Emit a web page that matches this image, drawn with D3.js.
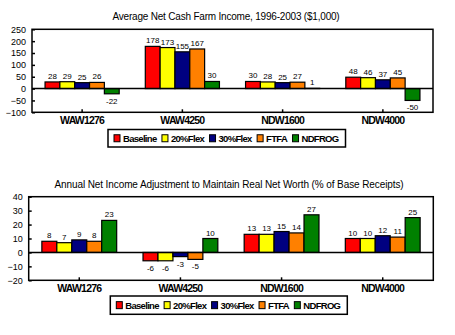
<!DOCTYPE html>
<html>
<head>
<meta charset="utf-8">
<script src="https://cdn.jsdelivr.net/npm/d3@7"></script>
<style>
  body { margin: 0; background: #fff; }
  svg { display: block; font-family: "Liberation Sans", Arial, sans-serif; }
</style>
</head>
<body>
<svg id="chart" width="455" height="335"></svg>
<script>
// Farms and scenarios
const categories = ["WAW1276", "WAW4250", "NDW1600", "NDW4000"];
const scenarios = ["Baseline", "20%Flex", "30%Flex", "FTFA", "NDFROG"];
const colors = ["#ff0000", "#ffff00", "#000080", "#ff8000", "#008000"];

// Average net cash farm income, 1996-2003 ($1,000), one array per scenario
const incomeBaseline = [28, 178, 30, 48];
const income20Flex   = [29, 173, 28, 46];
const income30Flex   = [25, 155, 25, 37];
const incomeFTFA     = [26, 167, 27, 45];
const incomeNDFROG   = [-22, 30, 1, -50];
const incomeTicks    = [250, 200, 150, 100, 50, 0, -50, -100];

// Annual net income adjustment (% of base receipts)
const adjBaseline = [8, -6, 13, 10];
const adj20Flex   = [7, -6, 13, 10];
const adj30Flex   = [9, -3, 15, 12];
const adjFTFA     = [8, -5, 14, 11];
const adjNDFROG   = [23, 10, 27, 25];
const adjTicks    = [40, 30, 20, 10, 0, -10, -20];

const svg = d3.select("#chart");

function drawPanel(cfg) {
  const g = svg.append("g");
  const x = d3.scaleBand().domain(categories).range([cfg.left, cfg.right]).paddingInner(0).paddingOuter(0);
  const x1 = d3.scaleBand().domain(scenarios).range([0, x.bandwidth()]).paddingInner(0).paddingOuter(0.88);
  const y = d3.scaleLinear().domain(cfg.domain).range([cfg.bottom, cfg.top]);

  // title
  g.append("text").attr("x", cfg.titleX).attr("y", cfg.titleY)
    .attr("text-anchor", "middle").attr("font-size", cfg.titleSize).attr("fill", "#000")
    .attr("letter-spacing", cfg.titleSpacing)
    .text(cfg.title);

  // frame
  g.append("rect").attr("x", cfg.left).attr("y", cfg.top)
    .attr("width", cfg.right - cfg.left).attr("height", cfg.bottom - cfg.top)
    .attr("fill", "none").attr("stroke", "#000").attr("stroke-width", 1.5);

  // y axis
  const yAxis = d3.axisLeft(y).tickValues(cfg.ticks).tickSize(-3).tickPadding(6);
  const ya = g.append("g").attr("transform", `translate(${cfg.left},0)`).call(yAxis);
  ya.select(".domain").remove();
  ya.selectAll("line").attr("stroke", "#000").attr("stroke-width", 1.5);
  ya.selectAll("text").attr("font-size", 9).attr("font-family", "'Liberation Sans', Arial, sans-serif").attr("fill", "#000");

  // x axis ticks at category centres + labels
  const xa = g.append("g");
  xa.selectAll("line").data(categories).join("line")
    .attr("x1", d => x(d) + x.bandwidth() / 2).attr("x2", d => x(d) + x.bandwidth() / 2)
    .attr("y1", cfg.bottom).attr("y2", cfg.bottom - 3)
    .attr("stroke", "#000").attr("stroke-width", 1.5);
  xa.selectAll("text").data(categories).join("text")
    .attr("x", d => x(d) + x.bandwidth() / 2).attr("y", cfg.bottom + 12)
    .attr("text-anchor", "middle").attr("font-size", 10.5).attr("font-weight", "bold")
    .attr("letter-spacing", -0.8)
    .text(d => d);

  // bars
  const rows = [];
  categories.forEach((c, i) => {
    scenarios.forEach((s, j) => rows.push({ c, s, j, v: cfg.series[j][i] }));
  });
  g.append("g").selectAll("rect").data(rows).join("rect")
    .attr("x", d => x(d.c) + x1(d.s))
    .attr("y", d => y(Math.max(0, d.v)))
    .attr("width", x1.bandwidth())
    .attr("height", d => Math.abs(y(d.v) - y(0)))
    .attr("fill", d => colors[d.j])
    .attr("stroke", "#000").attr("stroke-width", 1.2);

  // zero line
  g.append("line").attr("x1", cfg.left).attr("x2", cfg.right)
    .attr("y1", y(0)).attr("y2", y(0)).attr("stroke", "#000").attr("stroke-width", 1.5);

  // value labels
  g.append("g").selectAll("text").data(rows).join("text")
    .attr("x", d => x(d.c) + x1(d.s) + x1.bandwidth() / 2)
    .attr("y", d => d.v >= 0 ? y(d.v) - 3 : y(d.v) + 10)
    .attr("text-anchor", "middle").attr("font-size", 8).attr("fill", "#000")
    .text(d => d.v);

  // legend
  const lg = g.append("g");
  const midY = cfg.legY + cfg.legH / 2;
  const items = scenarios.map((s, j) => {
    const sq = lg.append("rect").attr("y", midY - 3.5).attr("width", 6).attr("height", 7)
      .attr("fill", colors[j]).attr("stroke", "#000").attr("stroke-width", 1);
    const t = lg.append("text").attr("y", midY + 3.5)
      .attr("font-size", 9.5).attr("font-weight", "bold").attr("letter-spacing", -0.7)
      .text(s);
    return { sq, t, w: t.node().getComputedTextLength() };
  });
  const textTotal = d3.sum(items, d => d.w);
  const inner = cfg.legW - 12;
  const gap = (inner - textTotal - items.length * 10) / (items.length - 1);
  let cx = cfg.legX + 6;
  items.forEach(it => {
    it.sq.attr("x", cx);
    it.t.attr("x", cx + 9);
    cx += 10 + it.w + gap;
  });
  lg.insert("rect", ":first-child").attr("x", cfg.legX).attr("y", cfg.legY)
    .attr("width", cfg.legW).attr("height", cfg.legH)
    .attr("fill", "#fff").attr("stroke", "#000").attr("stroke-width", 1.5);
}

drawPanel({
  title: "Average Net Cash Farm Income, 1996-2003 ($1,000)",
  titleX: 226, titleY: 20, titleSize: 10, titleSpacing: -0.2,
  left: 32, right: 433, top: 29.3, bottom: 112.3,
  domain: [-100, 250], ticks: incomeTicks,
  series: [incomeBaseline, income20Flex, income30Flex, incomeFTFA, incomeNDFROG],
  legX: 108, legY: 129.5, legW: 237.5, legH: 17.5
});

drawPanel({
  title: "Annual Net Income Adjustment to Maintain Real Net Worth (% of Base Receipts)",
  titleX: 229, titleY: 188, titleSize: 10, titleSpacing: -0.1,
  left: 28.7, right: 433.3, top: 196.7, bottom: 280.3,
  domain: [-20, 40], ticks: adjTicks,
  series: [adjBaseline, adj20Flex, adj30Flex, adjFTFA, adjNDFROG],
  legX: 110.3, legY: 296, legW: 237, legH: 18.3
});
</script>
</body>
</html>
